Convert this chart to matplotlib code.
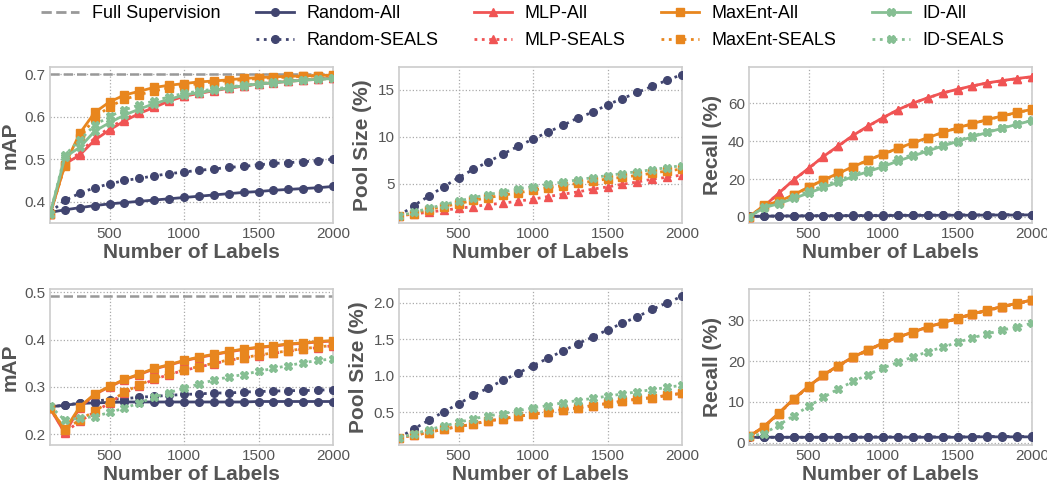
import numpy as np
import matplotlib
matplotlib.use("Agg")
from matplotlib import pyplot as plt
from matplotlib.lines import Line2D
from matplotlib.ticker import FormatStrFormatter

plt.rcParams['font.family'] = ['Liberation Sans', 'DejaVu Sans']

labels = list(range(100, 2001, 100))

# --- dataset 1 (top row) ---
full_sup_top = 0.70
map_top = {
    "Random-All": [0.375, 0.381, 0.386, 0.391, 0.395, 0.398, 0.401, 0.404, 0.407, 0.410,
                   0.413, 0.416, 0.419, 0.422, 0.424, 0.427, 0.429, 0.431, 0.433, 0.436],
    "Random-SEALS": [0.375, 0.403, 0.420, 0.433, 0.442, 0.450, 0.455, 0.461, 0.466, 0.470,
                     0.474, 0.477, 0.481, 0.483, 0.487, 0.490, 0.492, 0.494, 0.497, 0.500],
    "MLP-All": [0.370, 0.489, 0.510, 0.545, 0.569, 0.590, 0.608, 0.622, 0.637, 0.648,
                0.655, 0.661, 0.667, 0.672, 0.677, 0.680, 0.683, 0.686, 0.688, 0.691],
    "MLP-SEALS": [0.370, 0.492, 0.515, 0.550, 0.574, 0.594, 0.611, 0.625, 0.639, 0.649,
                  0.656, 0.662, 0.668, 0.673, 0.677, 0.681, 0.684, 0.687, 0.689, 0.691],
    "MaxEnt-All": [0.370, 0.487, 0.561, 0.610, 0.635, 0.651, 0.660, 0.669, 0.674, 0.678,
                   0.682, 0.684, 0.687, 0.690, 0.692, 0.694, 0.695, 0.696, 0.697, 0.698],
    "MaxEnt-SEALS": [0.370, 0.485, 0.550, 0.597, 0.624, 0.641, 0.652, 0.661, 0.668, 0.673,
                     0.678, 0.682, 0.685, 0.687, 0.690, 0.692, 0.693, 0.695, 0.696, 0.697],
    "ID-All": [0.370, 0.505, 0.528, 0.566, 0.586, 0.604, 0.618, 0.631, 0.641, 0.651,
               0.657, 0.662, 0.668, 0.673, 0.677, 0.680, 0.683, 0.686, 0.688, 0.690],
    "ID-SEALS": [0.370, 0.510, 0.545, 0.580, 0.601, 0.616, 0.628, 0.637, 0.647, 0.655,
                 0.660, 0.665, 0.670, 0.674, 0.678, 0.681, 0.684, 0.687, 0.688, 0.690],
}
pool_top = {
    "Random-SEALS": [1.6, 2.7, 3.7, 4.7, 5.67, 6.55, 7.36, 8.17, 9.0, 9.75,
                     10.5, 11.2, 12.0, 12.6, 13.4, 14.05, 14.7, 15.35, 16.0, 16.6],
    "MLP-SEALS": [1.6, 1.8, 2.0, 2.2, 2.4, 2.6, 2.8, 2.96, 3.17, 3.38,
                  3.66, 3.9, 4.15, 4.44, 4.68, 4.96, 5.2, 5.5, 5.7, 5.95],
    "MaxEnt-SEALS": [1.6, 1.85, 2.27, 2.6, 2.9, 3.25, 3.55, 3.8, 4.05, 4.33,
                     4.6, 4.8, 5.07, 5.28, 5.53, 5.7, 5.9, 6.13, 6.37, 6.58],
    "ID-SEALS": [1.6, 2.0, 2.4, 2.8, 3.17, 3.55, 3.87, 4.15, 4.47, 4.72,
                 4.96, 5.2, 5.42, 5.67, 5.88, 6.1, 6.3, 6.5, 6.73, 6.94],
}
recall_top = {
    "Random-All": [0.3, 0.4, 0.5, 0.5, 0.6, 0.6, 0.6, 0.7, 0.7, 0.7,
                   0.8, 0.8, 0.8, 0.9, 0.9, 0.9, 1.0, 1.0, 1.0, 1.1],
    "Random-SEALS": [0.3, 0.4, 0.5, 0.6, 0.6, 0.7, 0.7, 0.8, 0.8, 0.9,
                     0.9, 1.0, 1.0, 1.0, 1.1, 1.1, 1.1, 1.2, 1.2, 1.2],
    "MLP-All": [0.0, 5.6, 12.6, 19.6, 25.7, 32.0, 37.6, 43.2, 48.1, 52.5,
                56.7, 60.2, 63.0, 65.6, 67.5, 69.3, 70.9, 72.1, 73.2, 74.2],
    "MLP-SEALS": [0.0, 5.6, 12.5, 19.5, 25.6, 31.9, 37.5, 43.1, 48.0, 52.4,
                  56.6, 60.1, 62.9, 65.5, 67.4, 69.2, 70.8, 72.0, 73.1, 74.1],
    "MaxEnt-All": [0.0, 6.1, 8.2, 11.7, 15.8, 19.6, 23.1, 26.6, 30.1, 33.3,
                   36.3, 39.2, 41.9, 44.7, 47.1, 49.4, 51.5, 53.4, 55.3, 56.9],
    "MaxEnt-SEALS": [0.0, 6.0, 8.1, 11.6, 15.7, 19.5, 23.0, 26.5, 30.0, 33.2,
                     36.2, 39.1, 41.8, 44.6, 47.0, 49.3, 51.4, 53.3, 55.2, 56.8],
    "ID-All": [0.0, 4.9, 7.0, 9.8, 12.6, 15.6, 18.4, 21.4, 24.0, 26.6,
               29.6, 32.2, 34.9, 37.5, 39.9, 42.4, 44.7, 46.9, 49.0, 51.0],
    "ID-SEALS": [0.0, 5.2, 7.6, 10.6, 13.5, 16.5, 19.3, 22.3, 25.0, 27.6,
                 30.4, 33.0, 35.5, 38.0, 40.4, 42.8, 45.0, 47.1, 49.2, 51.1],
}

# --- dataset 2 (bottom row) ---
full_sup_bot = 0.493
map_bot = {
    "Random-All": [0.258, 0.261, 0.265, 0.266, 0.267, 0.268, 0.268, 0.268, 0.268, 0.268,
                   0.268, 0.268, 0.268, 0.268, 0.269, 0.269, 0.269, 0.269, 0.269, 0.269],
    "Random-SEALS": [0.258, 0.261, 0.266, 0.270, 0.273, 0.275, 0.278, 0.280, 0.282, 0.284,
                     0.285, 0.287, 0.287, 0.289, 0.290, 0.291, 0.292, 0.292, 0.293, 0.294],
    "MLP-All": [0.255, 0.202, 0.256, 0.284, 0.300, 0.315, 0.326, 0.338, 0.346, 0.355,
                0.362, 0.368, 0.374, 0.379, 0.383, 0.386, 0.390, 0.392, 0.395, 0.397],
    "MLP-SEALS": [0.255, 0.204, 0.227, 0.247, 0.266, 0.287, 0.302, 0.316, 0.326, 0.335,
                  0.342, 0.349, 0.356, 0.361, 0.366, 0.371, 0.375, 0.380, 0.383, 0.387],
    "MaxEnt-All": [0.255, 0.209, 0.258, 0.285, 0.301, 0.316, 0.327, 0.339, 0.347, 0.356,
                   0.363, 0.369, 0.375, 0.380, 0.384, 0.387, 0.391, 0.393, 0.396, 0.398],
    "MaxEnt-SEALS": [0.255, 0.210, 0.230, 0.249, 0.268, 0.289, 0.304, 0.318, 0.327, 0.336,
                     0.343, 0.350, 0.357, 0.362, 0.367, 0.372, 0.376, 0.381, 0.384, 0.388],
    "ID-SEALS": [0.260, 0.229, 0.234, 0.237, 0.246, 0.255, 0.266, 0.278, 0.288, 0.297,
                 0.306, 0.314, 0.321, 0.326, 0.333, 0.339, 0.345, 0.351, 0.356, 0.359],
}
pool_bot = {
    "Random-SEALS": [0.15, 0.27, 0.39, 0.505, 0.615, 0.73, 0.835, 0.94, 1.036, 1.14,
                     1.24, 1.34, 1.44, 1.53, 1.63, 1.72, 1.81, 1.91, 2.0, 2.09],
    "MLP-SEALS": [0.15, 0.185, 0.22, 0.27, 0.30, 0.34, 0.38, 0.41, 0.445, 0.47,
                  0.505, 0.535, 0.56, 0.59, 0.62, 0.65, 0.68, 0.70, 0.73, 0.76],
    "MaxEnt-SEALS": [0.15, 0.185, 0.22, 0.27, 0.30, 0.34, 0.38, 0.41, 0.445, 0.47,
                     0.505, 0.535, 0.56, 0.59, 0.62, 0.65, 0.68, 0.70, 0.73, 0.76],
    "ID-SEALS": [0.15, 0.20, 0.26, 0.31, 0.36, 0.41, 0.45, 0.48, 0.52, 0.56,
                 0.59, 0.63, 0.66, 0.69, 0.72, 0.75, 0.78, 0.81, 0.84, 0.87],
}
recall_bot = {
    "Random-All": [1.3, 1.3, 1.3, 1.3, 1.3, 1.3, 1.3, 1.3, 1.3, 1.3,
                   1.3, 1.3, 1.3, 1.3, 1.3, 1.4, 1.4, 1.4, 1.4, 1.4],
    "Random-SEALS": [1.3, 1.3, 1.3, 1.3, 1.3, 1.3, 1.3, 1.3, 1.4, 1.4,
                     1.4, 1.4, 1.4, 1.4, 1.4, 1.4, 1.5, 1.5, 1.5, 1.5],
    "MLP-All": [1.5, 3.9, 7.2, 10.7, 13.8, 16.6, 18.9, 21.0, 22.8, 24.4,
                25.9, 27.1, 28.4, 29.4, 30.5, 31.6, 32.5, 33.4, 34.2, 35.0],
    "MLP-SEALS": [1.5, 3.8, 7.1, 10.6, 13.7, 16.5, 18.8, 20.9, 22.7, 24.3,
                  25.8, 27.0, 28.3, 29.3, 30.4, 31.5, 32.4, 33.3, 34.1, 34.9],
    "MaxEnt-All": [1.5, 3.9, 7.2, 10.7, 13.8, 16.6, 18.9, 21.0, 22.8, 24.4,
                   25.9, 27.1, 28.4, 29.4, 30.5, 31.6, 32.5, 33.4, 34.2, 35.0],
    "MaxEnt-SEALS": [1.5, 3.8, 7.1, 10.6, 13.7, 16.5, 18.8, 20.9, 22.7, 24.3,
                     25.8, 27.0, 28.3, 29.3, 30.4, 31.5, 32.4, 33.3, 34.1, 34.9],
    "ID-SEALS": [1.5, 2.2, 4.3, 6.6, 8.9, 11.1, 13.2, 15.0, 16.7, 18.3,
                 19.7, 21.0, 22.3, 23.4, 24.6, 25.7, 26.7, 27.6, 28.4, 29.3],
}

colors = {"Random": "#414570", "MLP": "#f05454", "MaxEnt": "#e8861e", "ID": "#86bf93"}
markers = {"Random": "o", "MLP": "^", "MaxEnt": "s", "ID": "X"}
methods = ["Random", "MLP", "MaxEnt", "ID"]
gray = "#555555"


def draw(ax, data, ylabel, ylim, yticks, full_sup=None):
    if full_sup is not None:
        ax.axhline(full_sup, color="#999999", linestyle="--", linewidth=1.8, zorder=1)
    for m in methods:
        for kind in ["All", "SEALS"]:
            name = f"{m}-{kind}"
            if name not in data:
                continue
            ax.plot(labels, data[name], color=colors[m], marker=markers[m], markersize=5.5,
                    linewidth=2, linestyle="-" if kind == "All" else ":", zorder=3)
    ax.set_xlim(100, 2000)
    ax.set_ylim(*ylim)
    ax.set_xticks([500, 1000, 1500, 2000])
    ax.set_yticks(yticks)
    ax.grid(True, color="#aaaaaa", linestyle=":", linewidth=0.9)
    ax.set_axisbelow(True)
    for s in ax.spines.values():
        s.set_color("#cccccc")
        s.set_linewidth(1.2)
    ax.tick_params(axis="both", length=0, labelsize=11, colors=gray, pad=3)
    ax.set_xlabel("Number of Labels", fontsize=15, fontweight="bold", color=gray, labelpad=1)
    ax.set_ylabel(ylabel, fontsize=15, fontweight="bold", color=gray, labelpad=4)


fig = plt.figure(figsize=(10.47, 4.82), dpi=100)
W, H = 1047, 482
lefts = [50, 399, 749]
width = 283
rows = [(67, 156), (289, 156)]
axes = []
for top, h in rows:
    for l in lefts:
        axes.append(fig.add_axes([l / W, 1 - (top + h) / H, width / W, h / H]))

draw(axes[0], map_top, "mAP", (0.35, 0.717), [0.4, 0.5, 0.6, 0.7], full_sup_top)
draw(axes[1], pool_top, "Pool Size (%)", (0.85, 17.4), [5, 10, 15])
draw(axes[2], recall_top, "Recall (%)", (-3.2, 79.3), [0, 20, 40, 60])
draw(axes[3], map_bot, "mAP", (0.177, 0.507), [0.2, 0.3, 0.4, 0.5], full_sup_bot)
draw(axes[4], pool_bot, "Pool Size (%)", (0.05, 2.19), [0.5, 1.0, 1.5, 2.0])
draw(axes[5], recall_bot, "Recall (%)", (-0.6, 37.7), [0, 10, 20, 30])
axes[4].yaxis.set_major_formatter(FormatStrFormatter("%.1f"))

# legend: 5 columns, column-wise order, one empty slot under "Full Supervision"
handles = [Line2D([], [], color="#999999", linestyle="--", linewidth=2),
           Line2D([], [], linestyle="none")]
names = ["Full Supervision", ""]
for m in methods:
    for kind in ["All", "SEALS"]:
        handles.append(Line2D([], [], color=colors[m], marker=markers[m], markersize=5.5,
                              linewidth=2, linestyle="-" if kind == "All" else ":"))
        names.append(f"{m}-{kind}")
fig.legend(handles, names, ncol=5, loc="upper left", bbox_to_anchor=(41 / W, 1 - 5 / H),
           frameon=False, fontsize=13, columnspacing=1.95, handlelength=2.1,
           handletextpad=0.72, labelspacing=0.55, borderpad=0, borderaxespad=0)

fig.savefig("out.png", dpi=100)
